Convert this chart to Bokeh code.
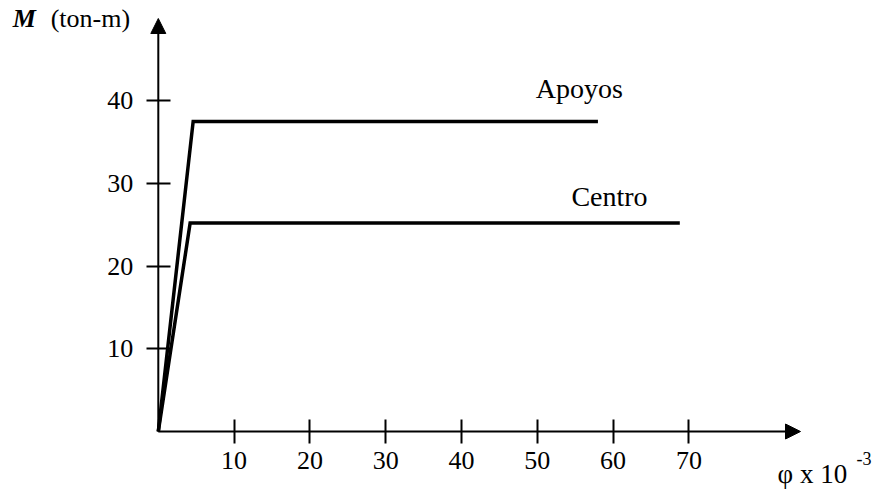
from bokeh.plotting import figure
from bokeh.models import Range1d, FixedTicker, Arrow, NormalHead, Label, LinearAxis
from bokeh.embed import file_html
from bokeh.resources import INLINE

# Moment-curvature relations (phi x 10^-3, M in ton-m)
apoyos_phi = [0.0, 4.6, 58.0]
apoyos_m = [0.0, 37.5, 37.5]
centro_phi = [0.0, 4.2, 68.8]
centro_m = [0.0, 25.2, 25.2]

x_ticks = [10, 20, 30, 40, 50, 60, 70]
y_ticks = [10, 20, 30, 40]

SERIF = "Liberation Serif"

W, H = 876, 489
ORIGIN_X, ORIGIN_Y = 157.8, 431.0      # canvas pixels of the origin
PX_X, PX_Y = 7.58, 8.27                 # pixels per data unit

# the frame covers the whole canvas; the axes sit on x=0 / y=0
x_range = Range1d(-ORIGIN_X / PX_X, (W - ORIGIN_X) / PX_X)
y_range = Range1d(-(H - ORIGIN_Y) / PX_Y, ORIGIN_Y / PX_Y)

p = figure(width=W, height=H, output_backend="svg", toolbar_location=None,
           x_range=x_range, y_range=y_range, x_axis_type=None, y_axis_type=None,
           min_border=0)
p.outline_line_color = None
p.background_fill_color = "white"
p.border_fill_color = "white"

xaxis = LinearAxis(ticker=FixedTicker(ticks=x_ticks), fixed_location=0)
yaxis = LinearAxis(ticker=FixedTicker(ticks=y_ticks), fixed_location=0)
for ax in (xaxis, yaxis):
    ax.axis_line_color = None
    ax.major_tick_in = 12
    ax.major_tick_out = 12
    ax.major_tick_line_width = 2
    ax.major_tick_line_color = "black"
    ax.minor_tick_line_color = None
    ax.major_label_text_font = SERIF
    ax.major_label_text_font_size = "26px"
    ax.major_label_text_color = "black"
xaxis.major_label_standoff = 8
yaxis.major_label_standoff = 13
p.add_layout(xaxis, "below")
p.add_layout(yaxis, "left")

# axes drawn as arrows from the origin
x_tip = (800 - ORIGIN_X) / PX_X
y_tip = (ORIGIN_Y - 18) / PX_Y
head = dict(size=15, fill_color="black", line_color="black")
p.add_layout(Arrow(end=NormalHead(**head), x_start=0, y_start=0,
                   x_end=x_tip, y_end=0, line_width=2, line_color="black"))
p.add_layout(Arrow(end=NormalHead(**head), x_start=0, y_start=0,
                   x_end=0, y_end=y_tip, line_width=2, line_color="black"))

p.line(apoyos_phi, apoyos_m, line_width=3.5, line_color="black", line_join="miter")
p.line(centro_phi, centro_m, line_width=3.5, line_color="black", line_join="miter")

DY = 9 / PX_Y   # lift annotation text onto its baseline

def label(x, y, text, size="26px", style="normal"):
    p.add_layout(Label(x=x, y=y + DY, text=text, text_font=SERIF, text_font_size=size,
                       text_font_style=style, text_color="black",
                       text_baseline="alphabetic", text_align="left"))

label(49.8, 40.4, "Apoyos", size="28px")
label(54.5, 27.3, "Centro", size="28px")
label(-19.2, 48.85, "M", style="bold italic")
label(-14.2, 48.85, "(ton-m)")
label(81.7, -6.17, "\u03c6 x 10", size="27px")
label(92.1, -4.4, "-3", size="18px")

open("out.html", "w").write(file_html(p, INLINE))
